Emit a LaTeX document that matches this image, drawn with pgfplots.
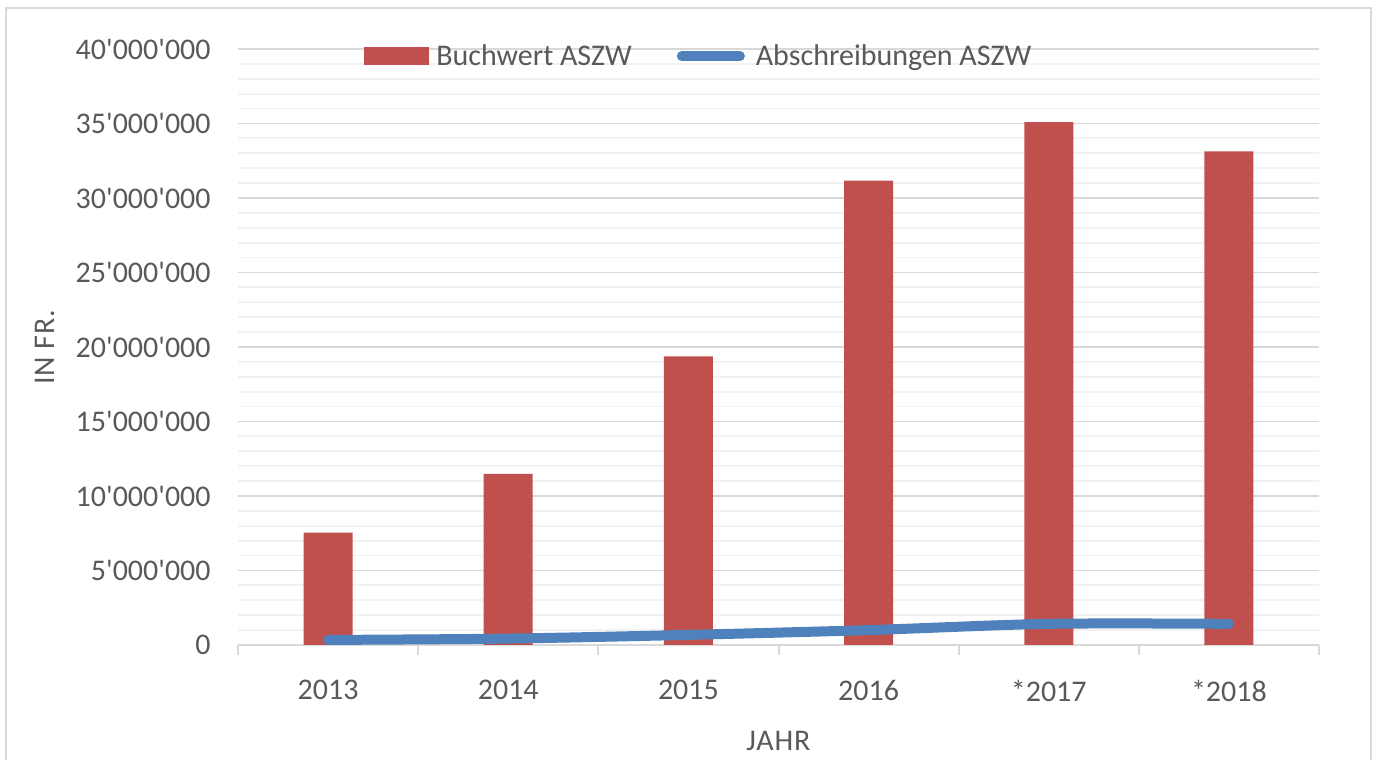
\documentclass[border=0pt]{standalone}
\usepackage{fontspec}
\setmainfont{Carlito}
\newfontfamily\labfont{Carlito}[LetterSpace=3]
\usepackage{pgfplots}
\pgfplotsset{compat=1.18}
\definecolor{barred}{HTML}{C0504D}
\definecolor{lineblue}{HTML}{4F81BD}
\definecolor{txtgray}{HTML}{595959}
\definecolor{gmaj}{HTML}{D9D9D9}
\definecolor{gmin}{HTML}{F2F2F2}
\newcommand\q{\textquotesingle}
\newcommand\cf{\fontsize{15}{18}\selectfont}
\begin{document}
\begin{tikzpicture}
\useasboundingbox (-119pt,-57.5pt) rectangle (569.5pt,322.5pt);
\draw[gmaj, line width=1pt] (-115.75pt,-70pt) -- (-115.75pt,318.5pt) -- (566.5pt,318.5pt) -- (566.5pt,-70pt);
\begin{axis}[
  at={(0pt,0pt)}, anchor=south west,
  width=540.5pt, height=298pt, scale only axis,
  xmin=-0.5, xmax=5.5, ymin=0, ymax=40000000,
  xtick={0,1,2,3,4,5},
  xticklabels={2013,2014,2015,2016,*2017,*2018},
  extra x ticks={-0.5,0.5,1.5,2.5,3.5,4.5,5.5},
  extra x tick labels={},
  extra x tick style={major tick length=5pt, tick style={gmaj, line width=1pt}, grid=none},
  ytick={0,5000000,10000000,15000000,20000000,25000000,30000000,35000000,40000000},
  yticklabels={0,5\q000\q000,10\q000\q000,15\q000\q000,20\q000\q000,25\q000\q000,30\q000\q000,35\q000\q000,40\q000\q000},
  scaled y ticks=false,
  minor y tick num=4,
  ymajorgrids, yminorgrids,
  major grid style={gmaj, line width=0.9pt},
  minor grid style={gmin, line width=0.9pt},
  tick align=outside,
  major tick length=0pt, minor tick length=0pt,
  axis x line*=bottom, axis y line*=left,
  x axis line style={-, gmaj, line width=1pt},
  y axis line style={draw=none},
  xticklabel style={font=\cf, text=txtgray, inner sep=0pt, anchor=north, yshift=-17.5pt},
  yticklabel style={font=\cf, text=txtgray, inner sep=0pt, anchor=east, xshift=-13.5pt},
  xlabel={JAHR},
  xlabel style={at={(axis description cs:0.5,-0.161)}, anchor=center, font=\labfont\fontsize{15}{18}\selectfont, text=txtgray},
  ylabel={IN FR.},
  ylabel style={at={(axis description cs:-0.1785,0.5)}, anchor=center, rotate=0, font=\labfont\fontsize{15}{18}\selectfont, text=txtgray},
  legend columns=2,
  legend style={draw=none, fill=none, at={(axis description cs:0.111,0.985)}, anchor=west,
    font=\cf, text=txtgray, cells={anchor=base west},
    /tikz/every even column/.append style={column sep=20pt},
    /tikz/every odd column/.append style={column sep=3.5pt},
    nodes={inner sep=0pt}},
]
\addplot[ybar, bar width=24.5pt, fill=barred, draw=none,
  legend image code/.code={\fill[barred] (0pt,0.33pt) rectangle (32.5pt,9.33pt);}]
  coordinates {(0,7540000) (1,11480000) (2,19370000) (3,31170000) (4,35100000) (5,33130000)};
\addlegendentry{Buchwert ASZW}
\addplot[lineblue, line width=5pt, smooth, line cap=round, mark=none,
  legend image code/.code={\path (0pt,0pt) (33.5pt,0pt); \draw[lineblue, line width=5pt, line cap=round, overlay] (2.5pt,4.83pt) -- (31.5pt,4.83pt);}]
  coordinates {(0,340000) (1,430000) (2,680000) (3,1000000) (4,1420000) (5,1420000)};
\addlegendentry{Abschreibungen ASZW}
\end{axis}
\end{tikzpicture}
\end{document}
